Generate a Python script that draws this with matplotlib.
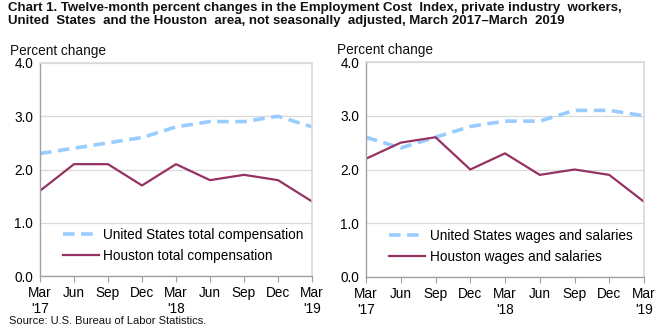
import matplotlib
matplotlib.use("Agg")
import matplotlib.pyplot as plt

plt.rcParams['font.family'] = ['Liberation Sans', 'DejaVu Sans']

months = ["Mar\n'17", "Jun", "Sep", "Dec", "Mar\n'18", "Jun", "Sep", "Dec", "Mar\n'19"]
us_total = [2.3, 2.4, 2.5, 2.6, 2.8, 2.9, 2.9, 3.0, 2.8]
hou_total = [1.6, 2.1, 2.1, 1.7, 2.1, 1.8, 1.9, 1.8, 1.4]
us_wages = [2.6, 2.4, 2.6, 2.8, 2.9, 2.9, 3.1, 3.1, 3.0]
hou_wages = [2.2, 2.5, 2.6, 2.0, 2.3, 1.9, 2.0, 1.9, 1.4]
yticks = [0.0, 1.0, 2.0, 3.0, 4.0]

title = ("Chart 1. Twelve-month percent changes in the Employment Cost  Index, private industry  workers,\n"
         "United  States  and the Houston  area, not seasonally  adjusted, March 2017\u2013March  2019")

US_C = '#99CCFF'
HOU_C = '#953163'

fig = plt.figure(figsize=(6.65, 3.35), dpi=100)
fig.text(8/665, 1 - 2/335, title, ha='left', va='top', fontsize=9.5,
         fontweight='bold', linespacing=1.12, color='#111111')
fig.text(9/665, 1 - 316/335, "Source: U.S. Bureau of Labor Statistics.", ha='left', va='top',
         fontsize=8, color='#111111')

def panel(rect, us, hou, us_lab, hou_lab, pc_x):
    ax = fig.add_axes(rect)
    x = list(range(len(months)))
    ax.plot(x, us, color=US_C, lw=2.6, dashes=(3.2, 1.8), label=us_lab, solid_capstyle='butt')
    ax.plot(x, hou, color=HOU_C, lw=1.6, label=hou_lab)
    ax.set_xlim(0, len(months) - 1)
    ax.set_ylim(0, 4)
    ax.set_yticks(yticks)
    ax.set_yticklabels([f"{v:.1f}" for v in yticks], fontsize=9.8)
    ax.set_xticks(x)
    ax.set_xticklabels(months, fontsize=9.8, linespacing=1.2)
    ax.grid(axis='y', color='#D9D9D9', lw=0.9)
    ax.set_axisbelow(True)
    for s in ['top', 'right']:
        ax.spines[s].set_color('#D9D9D9')
        ax.spines[s].set_linewidth(1.2)
    for s in ['left', 'bottom']:
        ax.spines[s].set_color('#A0A0A0')
        ax.spines[s].set_linewidth(1.0)
    ax.tick_params(axis='y', length=0, pad=5)
    ax.tick_params(axis='x', length=4, color='#A0A0A0', pad=3)
    ax.text(pc_x, 1.025, "Percent change", transform=ax.transAxes, ha='left', va='bottom',
            fontsize=9.8, color='#111111')
    ax.legend(loc='lower left', bbox_to_anchor=(0.04, 0.005), frameon=False, fontsize=9.8,
              handlelength=2.6, handletextpad=0.35, labelspacing=0.5)
    return ax

panel([40/665, 59/335, 272/665, 213/335], us_total, hou_total,
      "United States total compensation", "Houston total compensation", -0.11)
panel([366/665, 58/335, 278/665, 215/335], us_wages, hou_wages,
      "United States wages and salaries", "Houston wages and salaries", -0.104)

fig.savefig("out.png", dpi=100)
